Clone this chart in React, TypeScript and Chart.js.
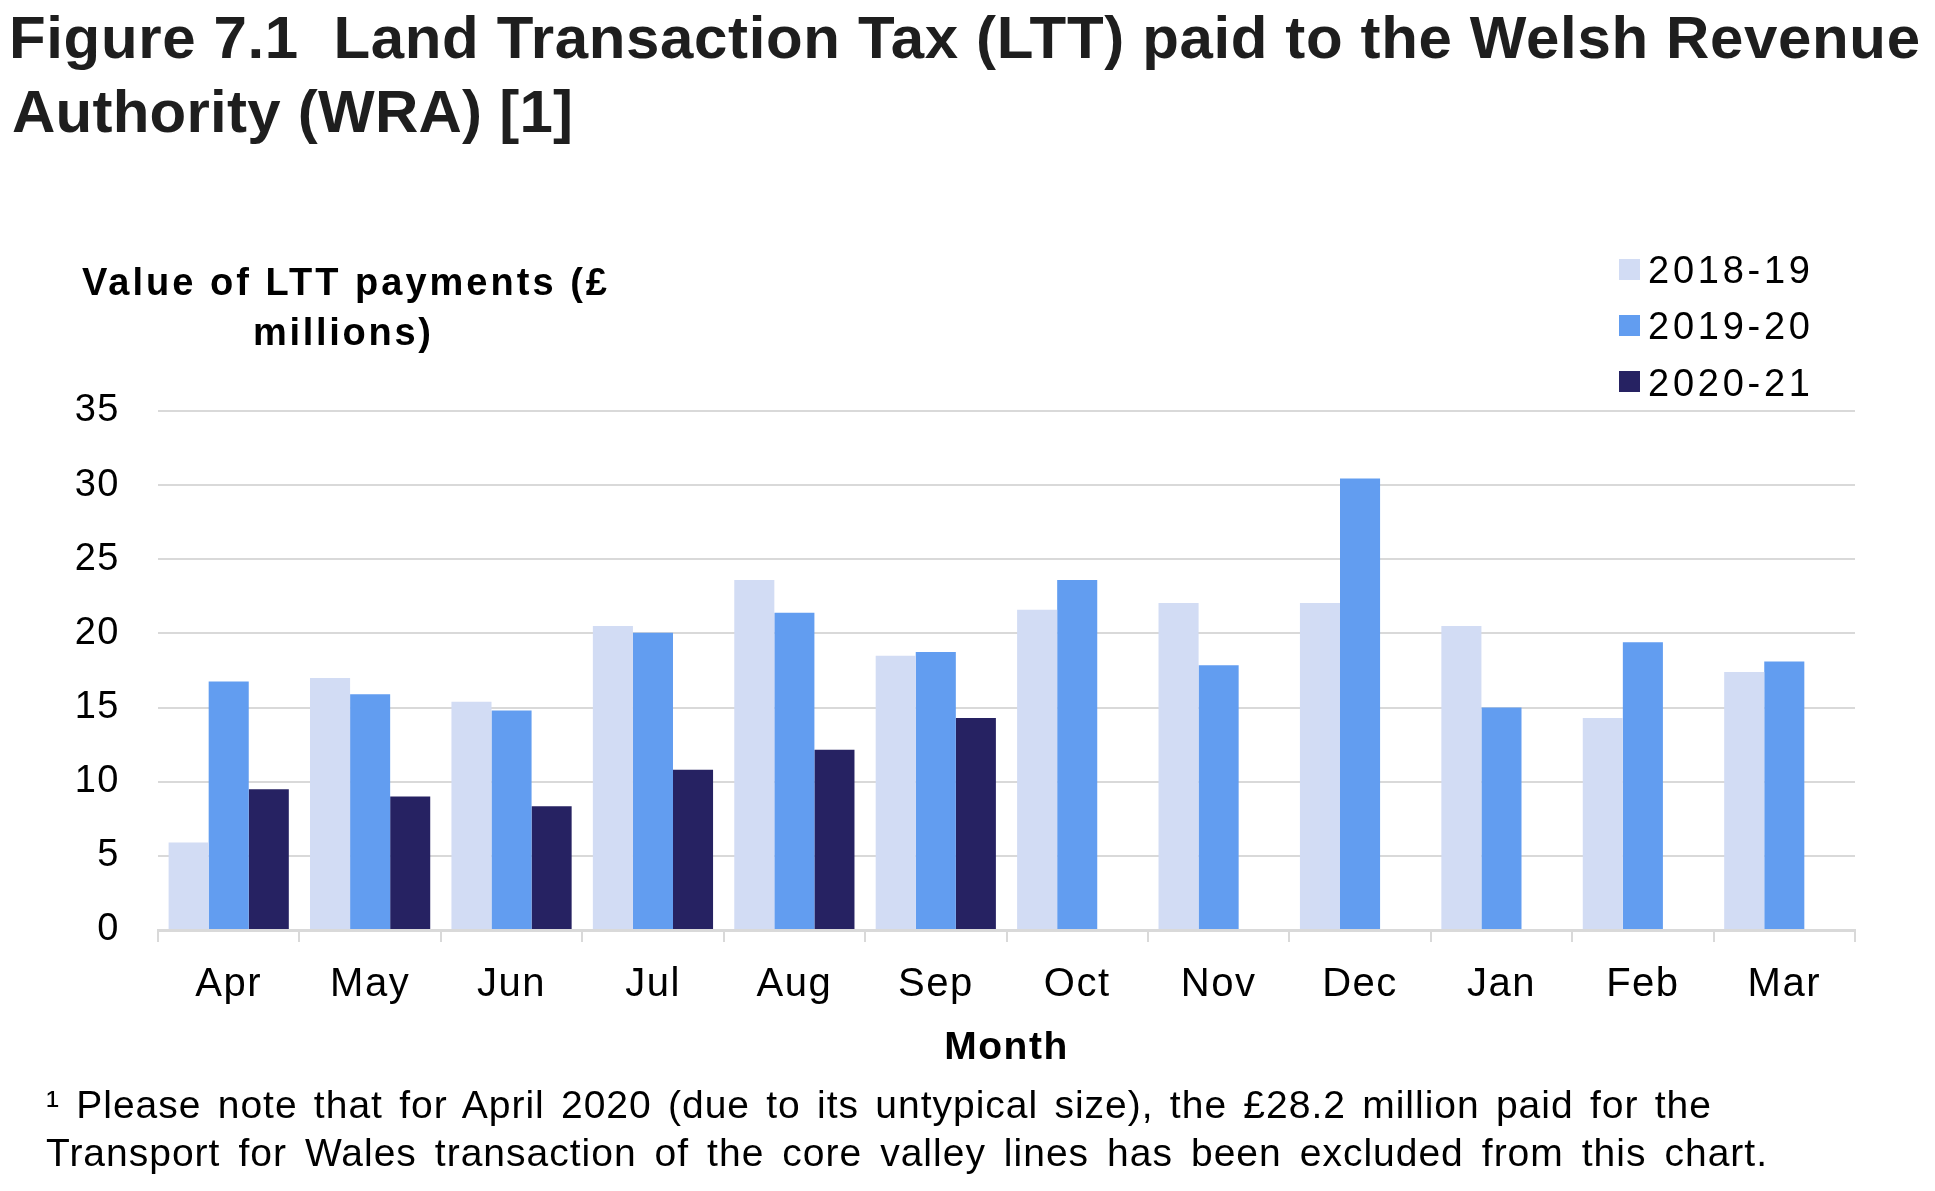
import React, { useEffect, useRef } from "react";
import { Chart, registerables } from "chart.js";

Chart.register(...registerables);

// ---------- data ----------
const months = ["Apr", "May", "Jun", "Jul", "Aug", "Sep", "Oct", "Nov", "Dec", "Jan", "Feb", "Mar"];
const ltt2018_19 = [5.9, 17.0, 15.4, 20.5, 23.6, 18.5, 21.6, 22.05, 22.05, 20.5, 14.3, 17.4];
const ltt2019_20 = [16.75, 15.9, 14.8, 20.05, 21.4, 18.75, 23.6, 17.85, 30.45, 15.0, 19.4, 18.1];
const ltt2020_21: (number | null)[] = [9.5, 9.0, 8.35, 10.8, 12.15, 14.3, null, null, null, null, null, null];
const seriesLabels = ["2018-19", "2019-20", "2020-21"];
const seriesColors = ["#d2dcf4", "#629df0", "#262262"];
const yMin = 0;
const yMax = 35;
const yStep = 5;

const titleLines = [
  "Figure 7.1  Land Transaction Tax (LTT) paid to the Welsh Revenue",
  "Authority (WRA) [1]",
];
const yTitleLines = ["Value of LTT payments (£", "millions)"];
const xTitle = "Month";
const footnoteLines = [
  "\u00B9 Please note that for April 2020 (due to its untypical size), the £28.2 million paid for the",
  "Transport for Wales transaction of the core valley lines has been excluded from this chart.",
];

const FAMILY = '"Liberation Sans", Arial, Helvetica, sans-serif';

let measureCtx: CanvasRenderingContext2D | null = null;
function measure(text: string, font: string): number {
  if (!measureCtx) measureCtx = document.createElement("canvas").getContext("2d");
  measureCtx!.font = font;
  return measureCtx!.measureText(text).width;
}

type LineProps = {
  text: string;
  size: number;
  bold?: boolean;
  baseline: number;
  left?: number;
  centerX?: number;
  width: number;
  wordFill?: boolean;
  baseLS?: number;
  color?: string;
};

function Line(p: LineProps) {
  const weight = p.bold ? 700 : 400;
  const font = `${weight} ${p.size}px ${FAMILY}`;
  const nat = measure(p.text, font);
  const n = Array.from(p.text).length;
  let ls = 0;
  let ws = 0;
  if (p.wordFill) {
    ls = p.baseLS ?? 0;
    const spaces = (p.text.match(/ /g) || []).length;
    ws = spaces ? (p.width - nat - (n - 1) * ls) / spaces : 0;
  } else {
    ls = n > 1 ? (p.width - nat) / (n - 1) : 0;
  }
  const left = p.centerX !== undefined ? p.centerX - p.width / 2 : p.left ?? 0;
  return (
    <div
      style={{
        position: "absolute",
        left,
        top: p.baseline - 0.8465 * p.size,
        fontFamily: FAMILY,
        fontSize: p.size,
        fontWeight: weight,
        lineHeight: `${p.size}px`,
        letterSpacing: `${ls}px`,
        wordSpacing: `${ws}px`,
        whiteSpace: "pre",
        color: p.color ?? "#000",
      }}
    >
      {p.text}
    </div>
  );
}

const letterSpacingPlugin = {
  id: "letterSpacingPlugin",
  beforeDraw(chart: any) {
    try {
      chart.ctx.letterSpacing = "1.5px";
    } catch (e) {
      /* ignore */
    }
  },
};

function BarChart() {
  const ref = useRef<HTMLCanvasElement | null>(null);
  useEffect(() => {
    if (!ref.current) return;
    const chart = new Chart(ref.current, {
      type: "bar",
      data: {
        labels: months,
        datasets: [
          { label: seriesLabels[0], data: ltt2018_19, backgroundColor: seriesColors[0] },
          { label: seriesLabels[1], data: ltt2019_20, backgroundColor: seriesColors[1] },
          { label: seriesLabels[2], data: ltt2020_21, backgroundColor: seriesColors[2] },
        ],
      },
      options: {
        animation: false,
        responsive: true,
        maintainAspectRatio: false,
        datasets: {
          bar: { categoryPercentage: 0.85, barPercentage: 1.0, borderWidth: 0 },
        },
        layout: { padding: { left: 0, right: 80, top: 411, bottom: 119 } },
        plugins: {
          legend: { display: false },
          tooltip: { enabled: false },
          title: { display: false },
        },
        scales: {
          x: {
            grid: {
              display: true,
              drawOnChartArea: false,
              drawTicks: true,
              tickLength: 12,
              color: "#d9d9d9",
              lineWidth: 2,
            },
            border: { display: true, color: "#d9d9d9", width: 3 },
            ticks: {
              color: "#000",
              padding: 19,
              font: { family: FAMILY, size: 40 },
              maxRotation: 0,
              autoSkip: false,
            },
            title: {
              display: true,
              text: xTitle,
              color: "#000",
              font: { family: FAMILY, size: 39, weight: "bold" },
              padding: { top: 0, bottom: 0 },
            },
            afterFit: (s: any) => {
              s.height = 142;
            },
          },
          y: {
            min: yMin,
            max: yMax,
            grid: { color: "#d9d9d9", lineWidth: 2, drawTicks: false },
            border: { display: false },
            ticks: {
              stepSize: yStep,
              color: "#000",
              padding: 38,
              font: { family: FAMILY, size: 38 },
            },
            afterFit: (s: any) => {
              s.width = 158;
            },
          },
        },
      } as any,
      plugins: [letterSpacingPlugin],
    });
    return () => chart.destroy();
  }, []);
  return (
    <div style={{ position: "absolute", left: 0, top: 0, width: 1935, height: 1191 }}>
      <canvas ref={ref} />
    </div>
  );
}

function Legend() {
  const baselines = [283.5, 339.5, 396];
  const boxTops = [259, 315, 371];
  return (
    <>
      {seriesLabels.map((lab, i) => (
        <React.Fragment key={lab}>
          <div
            style={{
              position: "absolute",
              left: 1619,
              top: boxTops[i],
              width: 21,
              height: 21,
              background: seriesColors[i],
            }}
          />
          <Line text={lab} size={38} baseline={baselines[i]} left={1648} width={162} />
        </React.Fragment>
      ))}
    </>
  );
}

export default function App() {
  useEffect(() => {
    document.body.style.margin = "0";
  }, []);
  return (
    <div
      style={{
        position: "fixed",
        left: 0,
        top: 0,
        width: 1935,
        height: 1191,
        overflow: "hidden",
        background: "#fff",
      }}
    >
      <BarChart />
      <Line text={titleLines[0]} size={60} bold baseline={59} left={9} width={1911} color="#1e1e1e" />
      <Line text={titleLines[1]} size={60} bold baseline={133} left={12} width={561} color="#1e1e1e" />
      <Line text={yTitleLines[0]} size={38} bold baseline={295.5} left={82} width={525} />
      <Line text={yTitleLines[1]} size={38} bold baseline={345} centerX={342} width={178} />
      <Legend />
      <Line text={footnoteLines[0]} size={39} baseline={1118} left={46} width={1667} wordFill baseLS={1.0} />
      <Line text={footnoteLines[1]} size={39} baseline={1166} left={46} width={1721} wordFill baseLS={1.0} />
    </div>
  );
}
